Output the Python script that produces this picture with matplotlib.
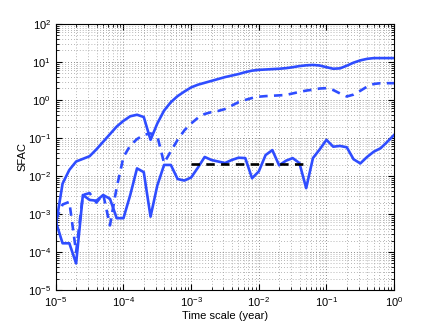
import numpy as np
import matplotlib
matplotlib.use("Agg")
import matplotlib.pyplot as plt

plt.rcParams['font.family'] = ['Liberation Sans', 'DejaVu Sans']
plt.rcParams['mathtext.default'] = 'regular'

# time points: 10 per decade, 1e-5 .. 1 year
log_t = np.arange(-50, 1) / 10.0
t = 10.0 ** log_t

# log10 of SFAC
upper_solid = [-3.30, -2.20, -1.84, -1.62, -1.55, -1.48, -1.30, -1.10, -0.90, -0.70,
               -0.55, -0.43, -0.39, -0.45, -1.05, -0.62, -0.28, -0.06, 0.10, 0.22,
               0.33, 0.40, 0.45, 0.50, 0.55, 0.60, 0.64, 0.68, 0.73, 0.77,
               0.79, 0.80, 0.81, 0.82, 0.835, 0.86, 0.89, 0.91, 0.92, 0.905,
               0.86, 0.82, 0.83, 0.90, 0.98, 1.04, 1.08, 1.10, 1.10, 1.10, 1.10]
dashed_blue = [-3.15, -2.75, -2.68, -4.00, -2.50, -2.45, -2.70, -2.48, -3.30, -2.30,
               -1.50, -1.20, -1.03, -0.92, -0.88, -0.95, -1.66, -1.35, -1.05, -0.80,
               -0.62, -0.47, -0.37, -0.32, -0.29, -0.24, -0.15, -0.06, 0.00, 0.05,
               0.085, 0.10, 0.11, 0.12, 0.13, 0.17, 0.21, 0.245, 0.27, 0.30,
               0.31, 0.26, 0.17, 0.09, 0.14, 0.24, 0.35, 0.42, 0.44, 0.44, 0.44]
lower_solid = [-3.20, -3.77, -3.77, -4.30, -2.50, -2.63, -2.65, -2.50, -2.60, -3.11,
               -3.11, -2.50, -1.80, -1.90, -3.07, -2.25, -1.71, -1.71, -2.08, -2.12,
               -2.04, -1.78, -1.50, -1.58, -1.62, -1.66, -1.58, -1.52, -1.53, -2.06,
               -1.88, -1.45, -1.32, -1.72, -1.60, -1.53, -1.66, -2.32, -1.53, -1.30,
               -1.05, -1.23, -1.21, -1.245, -1.56, -1.67, -1.50, -1.36, -1.27, -1.10, -0.92]
ref_t = [1e-3, 5e-2]
ref_val = [0.021, 0.021]

blue = '#2f4dff'
dash = (0, (3.2, 2.4))

fig = plt.figure(figsize=(4.36, 3.27), dpi=100)
ax = fig.add_axes([0.128, 0.113, 0.776, 0.814])

ax.plot(t, 10.0 ** np.array(upper_solid), color=blue, lw=1.9)
ax.plot(t, 10.0 ** np.array(dashed_blue), color=blue, lw=1.9, ls=dash)
ax.plot(t, 10.0 ** np.array(lower_solid), color=blue, lw=1.9)
ax.plot(ref_t, ref_val, color='k', lw=1.9, ls=dash)

ax.set_xscale('log')
ax.set_yscale('log')
ax.set_xlim(1e-5, 1)
ax.set_ylim(1e-5, 1e2)
ax.set_xticks([1e-5, 1e-4, 1e-3, 1e-2, 1e-1, 1])
ax.set_yticks([10.0 ** k for k in range(-5, 3)])

ax.grid(True, which='major', ls=(0, (1, 2.5)), color='0.4', lw=0.6)
ax.grid(True, which='minor', ls=(0, (1, 2.5)), color='0.62', lw=0.6)
ax.set_axisbelow(True)
ax.tick_params(which='both', direction='in', top=True, right=True, labelsize=8)
ax.tick_params(which='major', length=4)
ax.tick_params(which='minor', length=2)
for s in ax.spines.values():
    s.set_linewidth(0.8)

ax.set_xlabel('Time scale (year)', fontsize=8, labelpad=2)
ax.set_ylabel('SFAC', fontsize=8, labelpad=0)

fig.savefig('out.png', dpi=100)
